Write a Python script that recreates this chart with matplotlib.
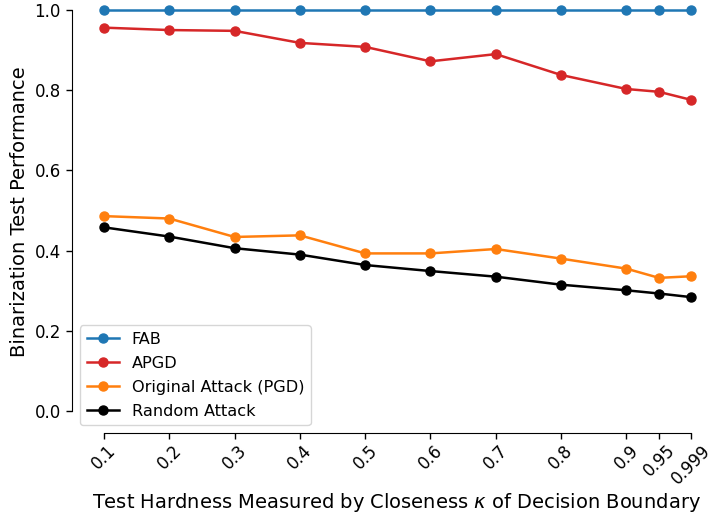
import matplotlib
matplotlib.use("Agg")
import matplotlib.pyplot as plt

kappa = [0.1, 0.2, 0.3, 0.4, 0.5, 0.6, 0.7, 0.8, 0.9, 0.95, 0.999]
tick_labels = ["0.1", "0.2", "0.3", "0.4", "0.5", "0.6", "0.7", "0.8", "0.9", "0.95", "0.999"]
fab = [1.0, 1.0, 1.0, 1.0, 1.0, 1.0, 1.0, 1.0, 1.0, 1.0, 1.0]
apgd = [0.956, 0.950, 0.948, 0.918, 0.908, 0.872, 0.890, 0.838, 0.803, 0.796, 0.776]
pgd = [0.486, 0.480, 0.434, 0.438, 0.393, 0.393, 0.404, 0.380, 0.355, 0.332, 0.336]
rand = [0.458, 0.435, 0.406, 0.390, 0.364, 0.349, 0.335, 0.315, 0.301, 0.293, 0.284]

W, H = 708, 514
fig = plt.figure(figsize=(W / 100, H / 100), dpi=100)
ax = fig.add_axes([72 / W, (H - 433) / H, (720 - 72) / W, (433 + 10) / H])

style = dict(marker="o", linewidth=1.8, markersize=6.5)
ax.plot(kappa, fab, color="tab:blue", label="FAB", **style)
ax.plot(kappa, apgd, color="tab:red", label="APGD", **style)
ax.plot(kappa, pgd, color="tab:orange", label="Original Attack (PGD)", **style)
ax.plot(kappa, rand, color="black", label="Random Attack", **style)

ax.set_xlim(0.1 - 32 / 652.9, 0.999 + 29 / 652.9)
ax.set_ylim(0 - 22 / 401, 1 + 20 / 401)
ax.set_xticks(kappa)
ax.set_xticklabels(tick_labels, rotation=45, fontsize=12)
ax.set_yticks([0.0, 0.2, 0.4, 0.6, 0.8, 1.0])
ax.set_yticklabels(["0.0", "0.2", "0.4", "0.6", "0.8", "1.0"], fontsize=12)
ax.tick_params(length=4.5, width=1.0)
ax.tick_params(axis="x", pad=1.5)

ax.spines["top"].set_visible(False)
ax.spines["right"].set_visible(False)
ax.spines["left"].set_bounds(0, 1)
ax.spines["bottom"].set_bounds(0.1, 0.999)

ax.set_xlabel(r"Test Hardness Measured by Closeness $\kappa$ of Decision Boundary", fontsize=14, labelpad=2.5)
ax.set_ylabel("Binarization Test Performance", fontsize=14)
ax.legend(loc="lower left", fontsize=11.6, labelspacing=0.55)

fig.savefig("out.png", dpi=100)
